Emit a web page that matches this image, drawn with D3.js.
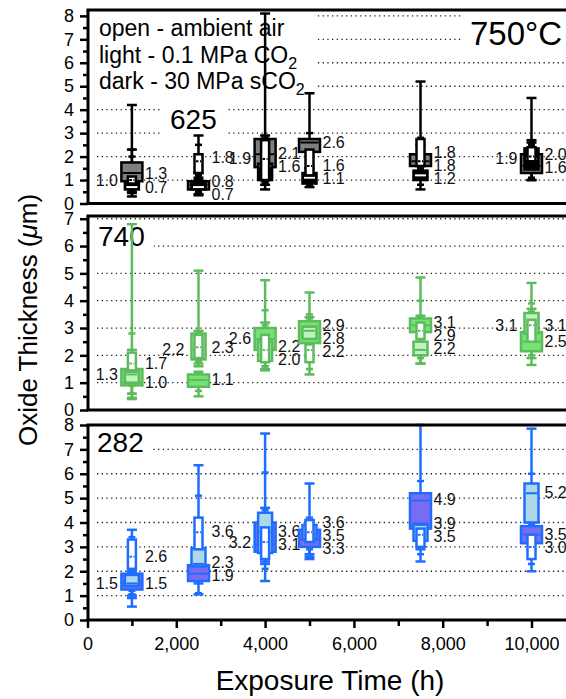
<!DOCTYPE html>
<meta charset="utf-8">
<html>
<style>
body { margin: 0; background: #fff; }
svg { display: block; font-family: "Liberation Sans", Arial, Helvetica, sans-serif; }
.grid line { stroke: #222; stroke-width: 1.3; stroke-dasharray: 1.3,3.4; }
.axis path, .axis line { stroke: #000; }
.axis path { stroke-width: 3px; }
.axis line { stroke-width: 2.5px; }
.axis text { font-size: 18px; fill: #000; font-family: "Liberation Sans", Arial, sans-serif; }
.val { font-size: 16px; fill: #111; }
</style>
<svg width="566" height="699"></svg>
<script src="https://d3js.org/d3.v7.min.js"></script>
<script>
var times = [1000, 2500, 4000, 5000, 7500, 10000];

// each box: [min, p10, q1, median, q3, p90, max]
var open750  = [[0.45,0.6,0.85,1.0,1.15,2.3,4.2], [1.0,1.2,1.3,1.8,2.1,2.5,2.9], [0.6,0.9,1.0,1.9,2.7,2.8,8.1],
                [1.0,1.1,1.2,1.6,2.3,2.5,2.6], [1.2,1.4,1.6,1.8,2.75,2.8,5.2], [1.5,1.7,1.8,2.0,2.4,2.6,4.5]];
var light750 = [[0.3,0.45,0.6,0.7,0.95,1.1,1.3], [0.35,0.45,0.6,0.7,0.9,1.0,1.1], [0.8,0.9,1.0,1.6,1.7,1.8,1.9],
                [0.7,0.8,0.85,1.1,1.3,1.4,1.5], [0.6,0.8,1.0,1.2,1.4,1.5,1.6], [1.0,1.05,1.45,1.9,2.35,2.5,2.7]];
var dark750  = [[0.5,0.8,0.95,1.3,1.75,2.0,2.3], [0.4,0.5,0.6,0.8,0.95,1.1,1.3], [1.0,1.3,1.55,2.1,2.75,2.8,2.9],
                [1.5,1.9,2.2,2.6,2.75,3.0,4.7], [1.2,1.4,1.6,1.8,2.1,2.3,2.5], [1.0,1.1,1.3,1.6,2.1,2.3,2.6]];

var open740  = [[0.45,1.2,1.45,1.7,2.1,2.8,6.8], [1.7,1.8,1.9,2.3,2.75,2.8,5.1], [1.45,1.6,1.75,2.2,2.75,3.65,4.75],
                [1.3,1.5,1.75,2.2,2.4,3.5,4.3], [1.7,2.4,2.6,2.9,3.2,4.0,4.85], [1.65,2.2,2.5,3.1,3.3,3.9,4.65]];
var light740 = [[0.6,0.9,1.0,1.3,1.4,1.6,2.2], [1.6,1.75,1.85,2.2,2.8,2.85,2.9], [1.5,1.6,1.8,2.0,2.5,2.6,2.7],
                [2.0,2.3,2.6,2.9,3.05,3.1,3.2], [1.7,1.9,2.0,2.2,2.5,2.6,2.7], [2.4,2.6,2.8,3.1,3.55,3.6,3.7]];
var dark740  = [[0.4,0.6,0.9,1.0,1.5,1.6,1.7], [0.5,0.7,0.85,1.1,1.3,1.35,1.4], [1.9,2.0,2.2,2.6,3.0,3.1,3.2],
                [2.0,2.2,2.45,2.8,3.25,3.35,3.4], [2.5,2.7,2.85,3.1,3.35,3.4,3.45], [1.9,2.0,2.15,2.5,2.85,2.9,3.0]];

var open282  = [[0.9,1.05,2.1,2.6,3.3,3.4,3.7], [1.7,2.5,2.9,3.6,4.2,5.1,6.35], [1.6,2.1,2.5,3.2,3.8,6.05,7.65],
                [2.7,2.9,3.2,3.6,4.1,4.2,5.6], [2.4,2.7,3.0,3.5,3.75,4.0,4.2], [2.0,2.3,2.5,3.0,3.5,3.6,3.7]];
var light282 = [[1.0,1.2,1.4,1.5,1.85,1.9,2.0], [1.5,2.0,2.2,2.3,2.95,3.0,3.1], [2.3,2.6,2.75,3.6,4.4,4.5,4.6],
                [2.6,3.0,3.3,3.5,3.9,4.0,4.1], [2.9,3.1,3.25,3.9,3.95,4.0,4.1], [3.6,3.8,4.0,5.2,5.6,6.0,7.85]];
var dark282  = [[0.55,1.05,1.25,1.5,1.9,1.95,2.0], [1.05,1.1,1.6,1.9,2.25,2.3,2.4], [2.4,2.6,2.8,3.1,4.0,4.1,4.2],
                [2.5,2.6,3.0,3.3,3.7,3.8,3.9], [3.0,3.3,3.75,4.9,5.2,5.7,8.0], [2.9,3.0,3.15,3.5,3.85,3.9,4.0]];

// side of the box where each median label is written
var openSide750 = ["L","R","L","R","R","R"], lightSide750 = ["R","R","R","R","R","L"], darkSide750 = ["R","R","R","R","R","R"];
var openSide740 = ["R","R","R","R","R","R"], lightSide740 = ["L","L","R","R","R","L"], darkSide740 = ["R","R","L","R","R","R"];
var openSide282 = ["R","R","L","R","R","R"], lightSide282 = ["R","R","R","R","R","R"], darkSide282 = ["L","R","R","R","R","R"];

var xTicks = [0, 2000, 4000, 6000, 8000, 10000];
var xMinor = [1000, 3000, 5000, 7000, 9000];

var svg = d3.select("svg");
var x = d3.scaleLinear().domain([0, 11000]).range([87.5, 575.9]);
var order = ["dark", "light", "open"];
var widths = {dark: 21, light: 14, open: 8};

var panels = [
  {top: 10, bottom: 203.5, max: 8.25, nTicks: 8, stroke: "#000",
   fill: {dark: "#7f7f7f", light: "#000", open: "#fff"}, med: {dark: "#000", light: "#fff", open: "#000"},
   open: open750, light: light750, dark: dark750,
   side: {open: openSide750, light: lightSide750, dark: darkSide750},
   notes: [{text: "625", x: 170, y: 129, size: 28}, {text: "750°C", x: 470, y: 45, size: 33}], legend: true},
  {top: 216, bottom: 410, max: 7.1, nTicks: 7, stroke: "#5cbb5c",
   fill: {dark: "#76e276", light: "#bff3bf", open: "#fff"}, med: {dark: "#5cbb5c", light: "#5cbb5c", open: "#5cbb5c"},
   open: open740, light: light740, dark: dark740,
   side: {open: openSide740, light: lightSide740, dark: darkSide740},
   notes: [{text: "740", x: 98, y: 246, size: 28}]},
  {top: 425, bottom: 620, max: 8, nTicks: 8, stroke: "#1f6dff",
   fill: {dark: "#7a6cf2", light: "#add8e6", open: "#fff"}, med: {dark: "#1f6dff", light: "#1f6dff", open: "#1f6dff"},
   open: open282, light: light282, dark: dark282,
   side: {open: openSide282, light: lightSide282, dark: darkSide282},
   notes: [{text: "282", x: 97, y: 452, size: 28}]}
];

function backed(g, node, padX, padY) {
  var b = node.getBBox();
  g.insert("rect", function() { return node; })
    .attr("x", b.x - padX).attr("y", b.y - padY)
    .attr("width", b.width + 2 * padX).attr("height", b.height + 2 * padY)
    .attr("fill", "#fff");
}

panels.forEach(function(p, pi) {
  var y = d3.scaleLinear().domain([0, p.max]).range([p.bottom, p.top]);
  var g = svg.append("g");

  g.append("g").attr("class", "grid").selectAll("line")
    .data(d3.range(1, p.nTicks + 1))
    .join("line")
      .attr("x1", 97).attr("x2", 566)
      .attr("y1", d => y(d)).attr("y2", d => y(d));

  // panel notes on white backing
  var ng = g.append("g");
  p.notes.forEach(function(n) {
    var t = ng.append("text").attr("x", n.x).attr("y", n.y).style("font-size", n.size + "px").text(n.text);
    backed(ng, t.node(), 9, 1);
  });

  if (p.legend) {
    var lg = g.append("g");
    var lines = [["open - ambient air", ""], ["light - 0.1 MPa CO", "2"], ["dark - 30 MPa sCO", "2"]];
    lg.selectAll("text").data(lines).join("text")
      .attr("x", 99).attr("y", (d, i) => 36 + i * 26.5)
      .style("font-size", "23px")
      .each(function(d) {
        var t = d3.select(this);
        t.append("tspan").text(d[0]);
        if (d[1]) t.append("tspan").attr("dy", 6).style("font-size", "16px").text(d[1]);
      });
    backed(lg, lg.selectAll("text").nodes()[0], 0, 0);
    var bb = lg.node().getBBox();
    lg.select("rect").attr("x", 92).attr("y", p.top + 2).attr("width", bb.x + bb.width - 92 + 12).attr("height", 98 - p.top);
  }

  // median labels, nudged apart where they collide
  var labels = [];
  times.forEach(function(t, i) {
    order.forEach(function(c) {
      labels.push({t: t, v: p[c][i][3], side: p.side[c][i]});
    });
  });
  d3.groups(labels, d => d.t + d.side).forEach(function(grp) {
    var arr = grp[1].sort((a, b) => b.v - a.v);
    arr.forEach(d => d.py = y(d.v));
    for (var k = 1; k < arr.length; k++) {
      if (arr[k].py < arr[k - 1].py + 13) arr[k].py = arr[k - 1].py + 13;
    }
    var shift = d3.mean(arr, d => y(d.v)) - d3.mean(arr, d => d.py);
    arr.forEach(d => d.py += shift);
  });
  g.append("g").selectAll("text").data(labels).join("text")
    .attr("class", "val")
    .attr("x", d => d.side == "R" ? x(d.t) + 13 : x(d.t) - 14)
    .attr("y", d => d.py + 5.5)
    .attr("text-anchor", d => d.side == "R" ? "start" : "end")
    .text(d => d3.format(".1f")(d.v));

  var boxes = [];
  order.forEach(function(c) {
    p[c].forEach(function(s, i) { boxes.push({c: c, t: times[i], s: s}); });
  });

  // whiskers with end caps and percentile marks
  var wg = g.append("g").attr("stroke", p.stroke).attr("stroke-width", 2.5);
  wg.selectAll("line.w").data(boxes).join("line").attr("class", "w")
    .attr("x1", d => x(d.t)).attr("x2", d => x(d.t))
    .attr("y1", d => y(d.s[0])).attr("y2", d => y(d.s[6]));
  var caps = [];
  boxes.forEach(function(d) {
    caps.push({t: d.t, v: d.s[0], w: 10}, {t: d.t, v: d.s[6], w: 10});
    if (d.s[1] < d.s[2]) caps.push({t: d.t, v: d.s[1], w: 7});
    if (d.s[5] > d.s[4]) caps.push({t: d.t, v: d.s[5], w: 7});
  });
  wg.selectAll("line.c").data(caps).join("line").attr("class", "c")
    .attr("x1", d => x(d.t) - d.w / 2).attr("x2", d => x(d.t) + d.w / 2)
    .attr("y1", d => y(d.v)).attr("y2", d => y(d.v));

  var bg = g.append("g").selectAll("g").data(boxes).join("g");
  bg.append("rect")
    .attr("x", d => x(d.t) - widths[d.c] / 2)
    .attr("y", d => y(d.s[4]))
    .attr("width", d => widths[d.c])
    .attr("height", d => y(d.s[2]) - y(d.s[4]))
    .attr("fill", d => p.fill[d.c])
    .attr("stroke", p.stroke).attr("stroke-width", 2.5);
  bg.append("line")
    .attr("x1", d => x(d.t) - widths[d.c] / 2 + 1.5).attr("x2", d => x(d.t) + widths[d.c] / 2 - 1.5)
    .attr("y1", d => y(d.s[3])).attr("y2", d => y(d.s[3]))
    .attr("stroke", d => p.med[d.c]).attr("stroke-width", 2)
    .attr("stroke-dasharray", d => d.c == "open" ? "2.5,1.5" : null);

  // frame
  g.append("line").attr("x1", 86.5).attr("x2", 566).attr("y1", p.top).attr("y2", p.top)
    .attr("stroke", "#000").attr("stroke-width", 3);
  g.append("line").attr("x1", 86.5).attr("x2", 566).attr("y1", p.bottom).attr("y2", p.bottom)
    .attr("stroke", "#000").attr("stroke-width", 3);

  var ax = g.append("g").attr("class", "axis").attr("transform", "translate(88,0)")
    .call(d3.axisLeft(y).tickValues(d3.range(0, p.nTicks + 1)).tickSize(8).tickPadding(6).tickSizeOuter(0));
  ax.select(".domain").attr("d", "M0," + p.top + "V" + p.bottom);
  g.append("g").attr("class", "axis").attr("transform", "translate(88,0)")
    .call(d3.axisLeft(y).tickValues(d3.range(0.5, p.nTicks, 1)).tickSize(5).tickFormat("").tickSizeOuter(0))
    .select(".domain").remove();

  if (pi == panels.length - 1) {
    var xa = g.append("g").attr("class", "axis").attr("transform", "translate(0," + p.bottom + ")")
      .call(d3.axisBottom(x).tickValues(xTicks).tickFormat(d3.format(",")).tickSize(8).tickPadding(9).tickSizeOuter(0));
    xa.select(".domain").remove();
    g.append("g").attr("class", "axis").attr("transform", "translate(0," + p.bottom + ")")
      .call(d3.axisBottom(x).tickValues(xMinor).tickSize(6).tickFormat("").tickSizeOuter(0))
      .select(".domain").remove();
  }
});

var yt = svg.append("text")
  .attr("transform", "translate(37,320) rotate(-90)")
  .attr("text-anchor", "middle")
  .style("font-size", "26px");
yt.append("tspan").text("Oxide Thickness (");
yt.append("tspan").style("font-style", "italic").text("μ");
yt.append("tspan").text("m)");

svg.append("text")
  .attr("x", 330).attr("y", 690)
  .attr("text-anchor", "middle")
  .style("font-size", "28px")
  .text("Exposure Time (h)");
</script>
</html>
